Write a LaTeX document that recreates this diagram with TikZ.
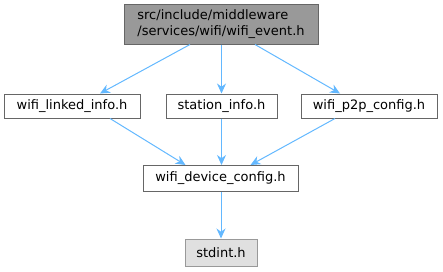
\documentclass[tikz,border=0pt]{standalone}
\usepackage{fontspec}
\setmainfont{DejaVu Sans}
\usetikzlibrary{arrows.meta}
\definecolor{edgec}{HTML}{63B8FF}
\definecolor{bordc}{HTML}{666666}
\tikzset{
  fbox/.style={draw=bordc, fill=white, line width=1pt, inner sep=0pt, font=\fontsize{13}{16}\selectfont, text=black},
  conn/.style={draw=edgec, line width=1pt, -{Stealth[length=10pt,width=9pt]}}
}
\begin{document}
\begin{tikzpicture}[x=1pt,y=-1pt]
\useasboundingbox (0,0) rectangle (443,271);
\node[fbox, fill=black!40, minimum width=194pt, minimum height=40pt, align=left] (top) at (221,24) {src/include/middleware\\/services/wifi/wifi\_event.h};
\node[fbox, minimum width=136pt, minimum height=24pt] (linked) at (72,106) {wifi\_linked\_info.h};
\node[fbox, minimum width=111pt, minimum height=24pt] (station) at (221.5,106) {station\_info.h};
\node[fbox, minimum width=136pt, minimum height=24pt] (p2p) at (369,106) {wifi\_p2p\_config.h};
\node[fbox, minimum width=155pt, minimum height=26pt] (device) at (220.5,178.5) {wifi\_device\_config.h};
\node[fbox, draw=black!40, fill=black!12, minimum width=72pt, minimum height=27pt] (stdint) at (221,252.5) {stdint.h};
\draw[conn] ([xshift=-31pt]top.south) -- ([xshift=28pt]linked.north);
\draw[conn] (top.south -| station.north) -- (station.north);
\draw[conn] ([xshift=34pt]top.south) -- ([xshift=-29pt]p2p.north);
\draw[conn] ([xshift=38pt]linked.south) -- ([xshift=-35pt]device.north);
\draw[conn] (station.south) -- (device.north -| station.south);
\draw[conn] ([xshift=-34pt]p2p.south) -- ([xshift=30pt]device.north);
\draw[conn] (device.south -| stdint.north) -- (stdint.north);
\end{tikzpicture}
\end{document}
